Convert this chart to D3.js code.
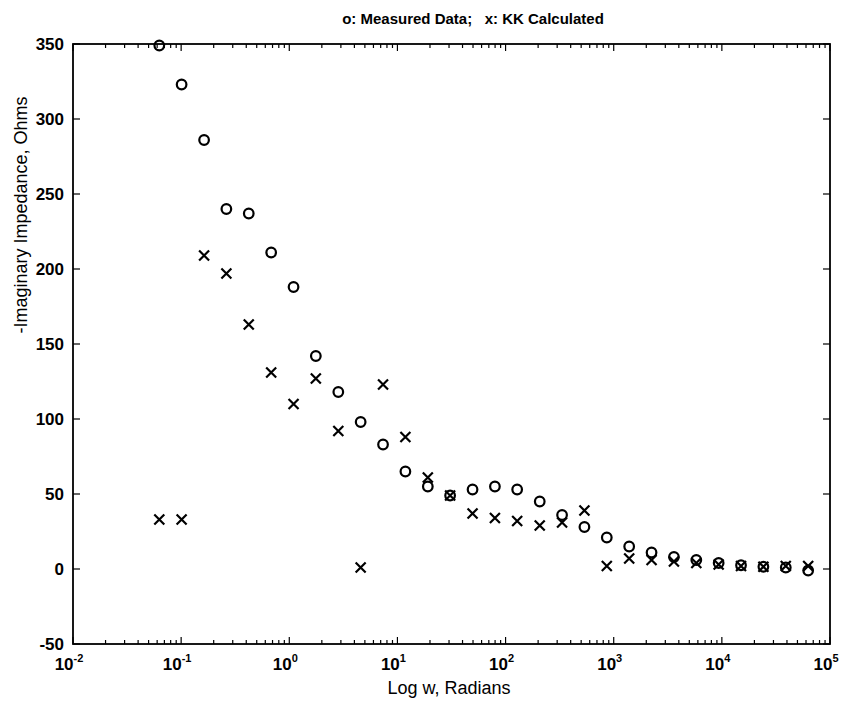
<!DOCTYPE html>
<html>
<head>
<meta charset="utf-8">
<script src="https://cdn.jsdelivr.net/npm/d3@7"></script>
<style>
  body { margin: 0; background: #fff; }
  svg text { font-family: "Liberation Sans", Arial, sans-serif; fill: #000; }
</style>
</head>
<body>
<div id="chart"></div>
<script>
/* frequency points, rad/s */
var omega = [0.0628, 0.101, 0.163, 0.262, 0.422, 0.680, 1.095, 1.76, 2.84, 4.57,
             7.36, 11.85, 19.1, 30.7, 49.5, 79.7, 128, 207, 333, 536,
             863, 1390, 2238, 3605, 5805, 9340, 15040, 24220, 39000, 62830];

/* o: measured data */
var measured = [349, 323, 286, 240, 237, 211, 188, 142, 118, 98,
                83, 65, 55, 49, 53, 55, 53, 45, 36, 28,
                21, 15, 11, 8, 6, 4, 2.5, 1.5, 1, -1];

/* x: KK calculated */
var kkCalc = [33, 33, 209, 197, 163, 131, 110, 127, 92, 1,
              123, 88, 61, 49, 37, 34, 32, 29, 31, 39,
              2, 7, 6, 5, 4, 3, 2, 1.5, 2, 2];

var yTicks = [-50, 0, 50, 100, 150, 200, 250, 300, 350];
var xTickExps = [-2, -1, 0, 1, 2, 3, 4, 5];

function chart(selector)
{
    var width = 848, height = 702;
    var pLeft = 73, pRight = 830, pTop = 44, pBottom = 644;

    var svg = d3.select(selector)
        .append("svg")
        .attr("width", width)
        .attr("height", height);

    var x = d3.scaleLog().domain([1e-2, 1e5]).range([pLeft, pRight]);
    var y = d3.scaleLinear().domain([-50, 350]).range([pBottom, pTop]);

    /* box */
    svg.append("rect")
        .attr("x", pLeft).attr("y", pTop)
        .attr("width", pRight - pLeft).attr("height", pBottom - pTop)
        .attr("fill", "none").attr("stroke", "#000").attr("stroke-width", 1.8);

    /* ticks: inward on all four sides */
    var majorLen = 7, minorLen = 4;
    var minorTicks = [];
    xTickExps.slice(0, -1).forEach(function (e) {
        for (var k = 2; k <= 9; k++) minorTicks.push(k * Math.pow(10, e));
    });

    var tickG = svg.append("g").attr("stroke", "#000").attr("stroke-width", 1.2);
    xTickExps.forEach(function (e) {
        var px = x(Math.pow(10, e));
        tickG.append("line").attr("x1", px).attr("x2", px).attr("y1", pBottom).attr("y2", pBottom - majorLen);
        tickG.append("line").attr("x1", px).attr("x2", px).attr("y1", pTop).attr("y2", pTop + majorLen);
    });
    minorTicks.forEach(function (v) {
        var px = x(v);
        tickG.append("line").attr("x1", px).attr("x2", px).attr("y1", pBottom).attr("y2", pBottom - minorLen);
        tickG.append("line").attr("x1", px).attr("x2", px).attr("y1", pTop).attr("y2", pTop + minorLen);
    });
    yTicks.forEach(function (v) {
        var py = y(v);
        tickG.append("line").attr("x1", pLeft).attr("x2", pLeft + majorLen).attr("y1", py).attr("y2", py);
        tickG.append("line").attr("x1", pRight).attr("x2", pRight - majorLen).attr("y1", py).attr("y2", py);
    });

    /* y tick labels */
    svg.append("g").selectAll("text")
        .data(yTicks).enter().append("text")
        .attr("x", pLeft - 9)
        .attr("y", function (d) { return y(d) + 6; })
        .attr("text-anchor", "end")
        .attr("font-size", 17)
        .attr("font-weight", "bold")
        .text(function (d) { return d; });

    /* x tick labels, 10 with superscript exponent */
    var xl = svg.append("g").selectAll("text")
        .data(xTickExps).enter().append("text")
        .attr("x", function (d) { return x(Math.pow(10, d)) - 4; })
        .attr("y", pBottom + 26)
        .attr("text-anchor", "middle")
        .attr("font-size", 17)
        .attr("font-weight", "bold");
    xl.append("tspan").text("10");
    xl.append("tspan")
        .attr("dy", -8)
        .attr("font-size", 11)
        .text(function (d) { return d; });

    /* title and axis labels */
    svg.append("text")
        .attr("x", 473).attr("y", 24)
        .attr("text-anchor", "middle")
        .attr("font-size", 15)
        .attr("font-weight", "bold")
        .attr("xml:space", "preserve")
        .text("o: Measured Data;   x: KK Calculated");

    svg.append("text")
        .attr("x", 449).attr("y", 694)
        .attr("text-anchor", "middle")
        .attr("font-size", 18)
        .text("Log w, Radians");

    svg.append("text")
        .attr("transform", "translate(27,215) rotate(-90)")
        .attr("text-anchor", "middle")
        .attr("font-size", 18)
        .text("-Imaginary Impedance, Ohms");

    /* measured: circles */
    svg.append("g").selectAll("circle")
        .data(omega).enter().append("circle")
        .attr("cx", function (d) { return x(d); })
        .attr("cy", function (d, i) { return y(measured[i]); })
        .attr("r", 4.8)
        .attr("fill", "none")
        .attr("stroke", "#000")
        .attr("stroke-width", 2.2);

    /* KK calculated: crosses */
    var s = 5;
    svg.append("g").selectAll("path")
        .data(omega).enter().append("path")
        .attr("d", function (d, i) {
            var cx = x(d), cy = y(kkCalc[i]);
            return "M" + (cx - s) + "," + (cy - s) + "L" + (cx + s) + "," + (cy + s) +
                   "M" + (cx - s) + "," + (cy + s) + "L" + (cx + s) + "," + (cy - s);
        })
        .attr("stroke", "#000")
        .attr("stroke-width", 2.2)
        .attr("fill", "none");
}

chart("#chart");
</script>
</body>
</html>
